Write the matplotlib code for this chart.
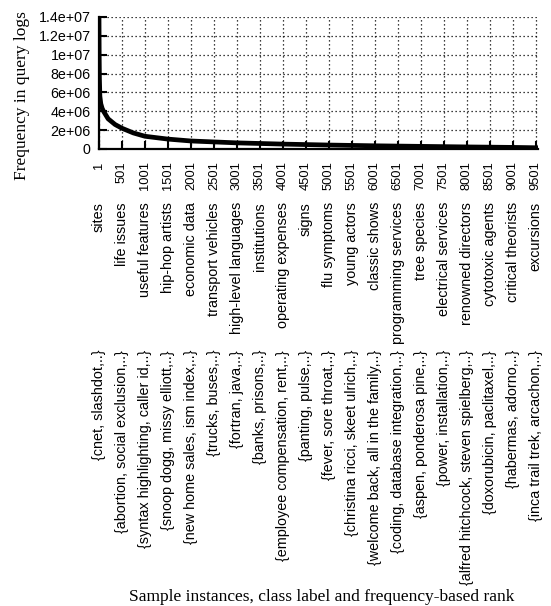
import matplotlib
matplotlib.use('Agg')
import matplotlib.pyplot as plt
from matplotlib.transforms import ScaledTranslation
from matplotlib.ticker import FuncFormatter

# rank vs frequency
rank = [1, 5, 10, 20, 40, 70, 100, 200, 350, 501, 750, 1001, 1501, 2001,
        3001, 4001, 5001, 6001, 7001, 8001, 9001, 9550]
freq = [1.4e7, 1.0e7, 7.5e6, 5.6e6, 4.8e6, 4.3e6, 4.0e6, 3.2e6, 2.6e6, 2.2e6,
        1.7e6, 1.35e6, 1.05e6, 0.85e6, 0.65e6, 0.52e6, 0.42e6, 0.34e6,
        0.28e6, 0.22e6, 0.17e6, 0.13e6]

ranks = list(range(1, 9502, 500))
classes = ['sites', 'life issues', 'useful features', 'hip-hop artists',
           'economic data', 'transport vehicles', 'high-level languages',
           'institutions', 'operating expenses', 'signs', 'flu symptoms',
           'young actors', 'classic shows', 'programming services',
           'tree species', 'electrical services', 'renowned directors',
           'cytotoxic agents', 'critical theorists', 'excursions']
instances = ['{cnet, slashdot,..}', '{abortion, social exclusion,..}',
             '{syntax highlighting, caller id,..}', '{snoop dogg, missy elliott,..}',
             '{new home sales, ism index,..}', '{trucks, buses,..}',
             '{fortran, java,..}', '{banks, prisons,..}',
             '{employee compensation, rent,..}', '{panting, pulse,..}',
             '{fever, sore throat,..}', '{christina ricci, skeet ulrich,..}',
             '{welcome back, all in the family,..}',
             '{coding, database integration,..}', '{aspen, ponderosa pine,..}',
             '{power, installation,..}', '{alfred hitchcock, steven spielberg,..}',
             '{doxorubicin, paclitaxel,..}', '{habermas, adorno,..}',
             '{inca trail trek, arcachon,..}']
yticks = [0, 2e6, 4e6, 6e6, 8e6, 1e7, 1.2e7, 1.4e7]

sans = 'Liberation Sans'
serif = 'Liberation Serif'

W, H = 551, 606
fig = plt.figure(figsize=(W/100, H/100), dpi=100)
ax = fig.add_axes([99/W, 1-149/H, 439/W, 132/H])

ax.plot(rank, freq, color='black', lw=3.4, solid_joinstyle='round')
ax.set_xlim(1, 9550)
ax.set_ylim(0, 1.4e7)

for s in ['top', 'right']:
    ax.spines[s].set_visible(False)
for s in ['left', 'bottom']:
    ax.spines[s].set_linewidth(1.6)

ax.grid(True, color='black', lw=0.9, linestyle=(0, (1, 2.2)))
ax.set_xticks(ranks)
ax.set_xticklabels([str(r) for r in ranks], rotation=90, fontfamily=sans,
                   fontsize=9.3, va='top', ha='center')
ax.set_yticks(yticks)

def sci(v, pos):
    if v == 0:
        return '0'
    m, e = ('%e' % v).split('e')
    m = m.rstrip('0').rstrip('.')
    return '%se+%02d' % (m, int(e))

ax.yaxis.set_major_formatter(FuncFormatter(sci))
for lab in ax.get_yticklabels():
    lab.set_fontfamily(sans)
    lab.set_fontsize(10.3)
ax.tick_params(axis='both', direction='in', length=6, width=1.5)
ax.tick_params(axis='x', pad=9)
ax.tick_params(axis='y', pad=6)

def below(dy):
    return ax.get_xaxis_transform() + ScaledTranslation(0, -dy/100, fig.dpi_scale_trans)

for r, c, i in zip(ranks, classes, instances):
    ax.text(r, 0, c, transform=below(53), rotation=90, ha='center', va='top',
            fontfamily=sans, fontsize=10.4)
    ax.text(r, 0, i, transform=below(201), rotation=90, ha='center', va='top',
            fontfamily=sans, fontsize=10.4)

fig.text(22/W, 1-96/H, 'Frequency in query logs', rotation=90, ha='center',
         va='center', fontfamily=serif, fontsize=12.5)
fig.text(322/W, 1-597/H, 'Sample instances, class label and frequency-based rank',
         ha='center', va='center', fontfamily=serif, fontsize=12.5)

fig.savefig('out.png', dpi=100)
